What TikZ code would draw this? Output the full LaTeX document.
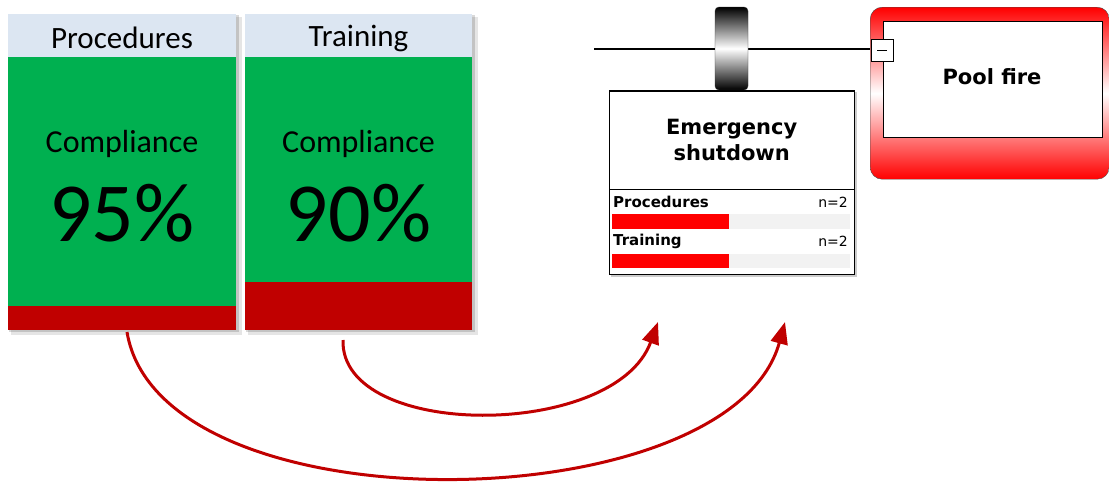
\documentclass[tikz,border=0pt]{standalone}
\usepackage{fontspec}
\usepackage{tikz}
\usetikzlibrary{arrows.meta}
\newfontfamily\cardfont{Carlito}
\newfontfamily\boxfont{DejaVu Sans}
\definecolor{headblue}{HTML}{DCE6F2}
\definecolor{okgreen}{HTML}{00B050}
\definecolor{darkred}{HTML}{C00000}
\definecolor{barred}{HTML}{FF0000}
\definecolor{bargray}{HTML}{F2F2F2}

\begin{document}
\begin{tikzpicture}[x=1pt,y=-1pt,>={Triangle[length=22pt,width=17pt]},
  head/.style={fill=headblue,minimum width=228pt,minimum height=43pt,inner sep=0pt,
    anchor=north west},
  headtext/.style={font=\cardfont\fontsize{31}{34}\selectfont},
  label/.style={font=\cardfont\fontsize{32}{36}\selectfont},
  score/.style={font=\cardfont\fontsize{84}{94}\selectfont},
  esd/.style={draw,fill=white,minimum width=245pt,minimum height=98pt,inner sep=0pt,
    anchor=north west,align=center,font=\boxfont\bfseries\fontsize{21}{26}\selectfont},
  barname/.style={anchor=west,inner sep=0pt,font=\boxfont\bfseries\fontsize{15}{17}\selectfont},
  barcount/.style={anchor=east,inner sep=0pt,font=\boxfont\fontsize{14}{16}\selectfont},
  flow/.style={->,draw=darkred,line width=3pt}]

  \useasboundingbox (0,0) rectangle (1109,482);

  % card shadows
  \foreach \x/\w in {8/228,245/227} {
    \fill[black,opacity=0.10] (\x+3,17) rectangle (\x+\w+6,335);
    \fill[black,opacity=0.15] (\x+1,15) rectangle (\x+\w+3,332);
  }

  % Procedures card
  \node[head] (prochead) at (8,14) {};
  \node[headtext] (prochtext) at (122,38) {Procedures};
  \fill[okgreen] (8,57) rectangle (236,306);
  \fill[darkred] (8,306) rectangle (236,330);
  \node[label] (proclabel) at (122,144) {Compliance};
  \node[score] (procscore) at (122,213) {95\%};

  % Training card
  \node[head,minimum width=227pt] (trainhead) at (245,14) {};
  \node[headtext] (trainhtext) at (358.5,38) {Training};
  \fill[okgreen] (245,57) rectangle (472,282);
  \fill[darkred] (245,282) rectangle (472,330);
  \node[label] (trainlabel) at (358.5,144) {Compliance};
  \node[score] (trainscore) at (358.5,213) {90\%};

  % barrier on the line
  \coordinate (linestart) at (594,49);
  \node[draw,fill=white,minimum size=22pt,inner sep=0pt] (minus) at (882,50) {};
  \draw[line width=2pt] (linestart) -- (minus.west |- linestart);
  \node[draw=black!80,top color=black,bottom color=black,middle color=white,
    rounded corners=4pt,minimum width=33pt,minimum height=83pt,inner sep=0pt]
    (barrier) at (731.5,48.5) {};

  % Emergency shutdown
  \fill[black,opacity=0.2] (611,92) rectangle (857,277);
  \draw[fill=white] (609,90) rectangle (854,274);
  \node[esd] (esd) at (609,91) {Emergency\\shutdown};
  \node[barname] (esdproc) at (613,202) {Procedures};
  \node[barcount] (esdprocn) at (848,202) {n=2};
  \fill[bargray] (612,214) rectangle (850,229);
  \fill[barred] (612,214) rectangle (729,229);
  \node[barname] (esdtrain) at (613,241) {Training};
  \node[barcount] (esdtrainn) at (848,241) {n=2};
  \fill[bargray] (612,254) rectangle (850,268);
  \fill[barred] (612,254) rectangle (729,268);

  % Pool fire
  \node[draw=black!70,top color=barred,bottom color=barred,middle color=white,
    rounded corners=12pt,minimum width=239pt,minimum height=172pt,inner sep=0pt,
    anchor=north west] (fireouter) at (870,7) {};
  \node[draw,fill=white,minimum width=219pt,minimum height=116pt,inner sep=0pt,
    anchor=north west] (pool) at (883,21) {};
  \node[font=\boxfont\bfseries\fontsize{21}{24}\selectfont] (pooltext) at (992,77) {Pool fire};
  \node[draw,fill=white,minimum size=22pt,inner sep=0pt] (minusbox) at (minus) {\rule{10pt}{0.8pt}};

  % influence arrows
  \coordinate (procout) at (127,332);
  \coordinate (trainout) at (343,340);
  \coordinate (esdin1) at (658,322);
  \coordinate (esdin2) at (785,322);
  \draw[flow] (procout) .. controls (160,532) and (730,522) .. (esdin2);
  \draw[flow] (trainout) .. controls (340,440) and (615,440) .. (esdin1);
\end{tikzpicture}
\end{document}
